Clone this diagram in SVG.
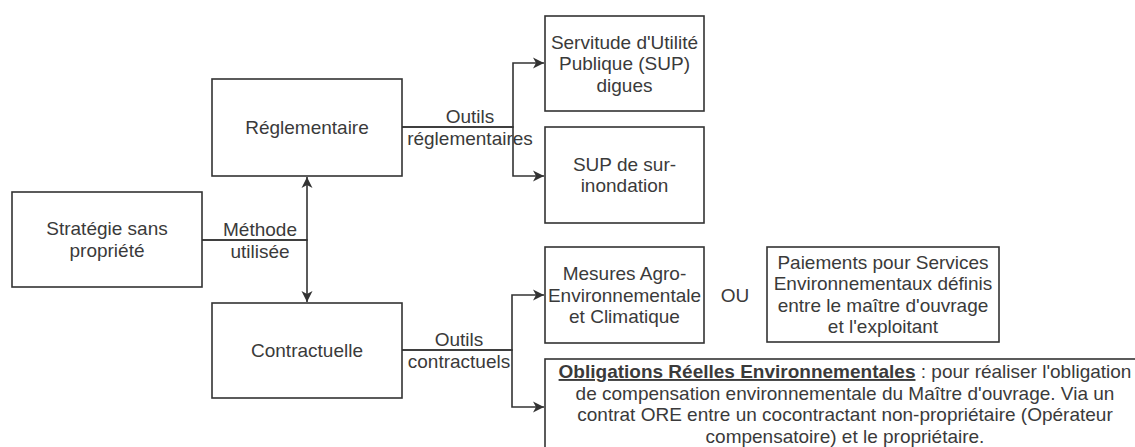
<svg xmlns="http://www.w3.org/2000/svg" width="1135" height="447" viewBox="0 0 1135 447">
<style>
.box{fill:#fff;stroke:#333;stroke-width:1.6}
.edge{fill:none;stroke:#333;stroke-width:1.6}
text{font-family:"Liberation Sans",Arial,sans-serif;font-size:19px;fill:#3a3a3a;text-anchor:middle}
.b{font-weight:bold;text-decoration:underline}
</style>
<defs>
<marker id="arr" markerUnits="userSpaceOnUse" viewBox="0 0 12 12" markerWidth="12" markerHeight="12" refX="11" refY="6" orient="auto">
<path d="M0,0.5 L11,6 L0,11.5 L3,6 z" fill="#333"/>
</marker>
</defs>
<rect width="1135" height="447" fill="#fff"/>
<g id="connectors">
<path class="edge" d="M202,240 H307 V177" marker-end="url(#arr)"/>
<path class="edge" d="M202,240 H307 V302" marker-end="url(#arr)"/>
<path class="edge" d="M402,127 H513 V63 H544" marker-end="url(#arr)"/>
<path class="edge" d="M402,127 H513 V176 H544" marker-end="url(#arr)"/>
<path class="edge" d="M402,350 H512 V295 H544" marker-end="url(#arr)"/>
<path class="edge" d="M402,350 H512 V407 H544" marker-end="url(#arr)"/>
<text x="260" y="236">Méthode</text>
<text x="260" y="258">utilisée</text>
<text x="470" y="123">Outils</text>
<text x="470" y="145">réglementaires</text>
<text x="459" y="346">Outils</text>
<text x="459" y="368">contractuels</text>
</g>
<g id="strategie">
<rect class="box" x="12" y="192" width="190" height="95"/>
<text x="107" y="235">Stratégie sans</text>
<text x="107" y="256.5">propriété</text>
</g>
<g id="reglementaire">
<rect class="box" x="212" y="79" width="190" height="97"/>
<text x="307" y="134">Réglementaire</text>
</g>
<g id="contractuelle">
<rect class="box" x="212" y="303" width="190" height="95"/>
<text x="307" y="357">Contractuelle</text>
</g>
<g id="sup-digues">
<rect class="box" x="545" y="16" width="159" height="95"/>
<text x="624.5" y="48.5">Servitude d'Utilité</text>
<text x="624.5" y="70">Publique (SUP)</text>
<text x="624.5" y="91.5">digues</text>
</g>
<g id="sup-surinondation">
<rect class="box" x="545" y="127" width="159" height="96"/>
<text x="624.5" y="170.5">SUP de sur-</text>
<text x="624.5" y="192">inondation</text>
</g>
<g id="maec">
<rect class="box" x="545" y="247" width="159" height="96"/>
<text x="624.5" y="280">Mesures Agro-</text>
<text x="624.5" y="301.5">Environnementale</text>
<text x="624.5" y="323">et Climatique</text>
</g>
<g id="ou">
<text x="735" y="302">OU</text>
</g>
<g id="pse">
<rect class="box" x="767" y="247" width="232" height="95"/>
<text x="883" y="268.5">Paiements pour Services</text>
<text x="883" y="290">Environnementaux définis</text>
<text x="883" y="311.5">entre le maître d'ouvrage</text>
<text x="883" y="333">et l'exploitant</text>
</g>
<g id="ore">
<rect class="box" x="545" y="359" width="600" height="100"/>
<text x="845" y="378"><tspan class="b">Obligations Réelles Environnementales</tspan> : pour réaliser l'obligation</text>
<text x="845" y="399.5">de compensation environnementale du Maître d'ouvrage. Via un</text>
<text x="845" y="421">contrat ORE entre un cocontractant non-propriétaire (Opérateur</text>
<text x="845" y="442.5">compensatoire) et le propriétaire.</text>
</g>
</svg>
